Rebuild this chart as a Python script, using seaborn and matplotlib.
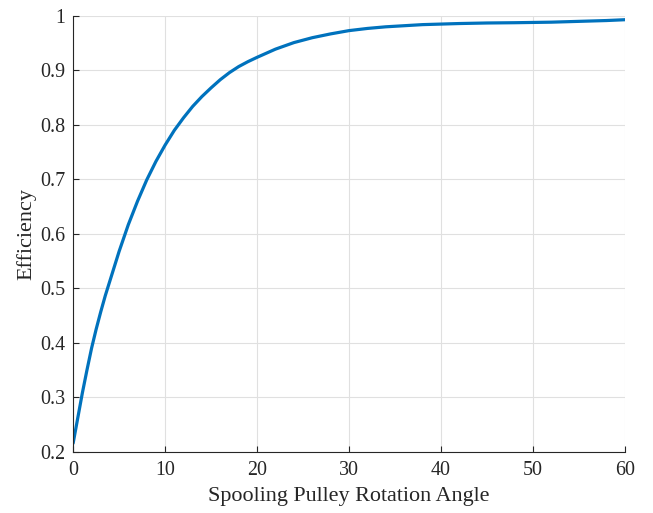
import matplotlib
matplotlib.use("Agg")
import matplotlib.pyplot as plt
import seaborn as sns
import pandas as pd

angle = [0, 0.5, 1, 1.5, 2, 2.5, 3, 3.5, 4, 5, 6, 7, 8, 9, 10, 11, 12, 13, 14,
         15, 16, 17, 18, 19, 20, 22, 24, 26, 28, 30, 32, 34, 36, 38, 40, 42,
         45, 48, 50, 52, 55, 58, 60]
efficiency = [0.216, 0.262, 0.308, 0.350, 0.390, 0.425, 0.457, 0.487, 0.514,
              0.568, 0.617, 0.660, 0.699, 0.733, 0.763, 0.790, 0.813, 0.834,
              0.852, 0.868, 0.883, 0.896, 0.907, 0.916, 0.924, 0.939, 0.951,
              0.960, 0.967, 0.973, 0.977, 0.980, 0.982, 0.984, 0.985, 0.986,
              0.987, 0.9875, 0.988, 0.9885, 0.990, 0.9915, 0.993]
xticks = [0, 10, 20, 30, 40, 50, 60]
yticks = [0.2, 0.3, 0.4, 0.5, 0.6, 0.7, 0.8, 0.9, 1.0]
ytick_labels = ["0.2", "0.3", "0.4", "0.5", "0.6", "0.7", "0.8", "0.9", "1"]

sns.set_style("white")
plt.rcParams['font.family'] = ['Liberation Serif', 'DejaVu Serif']

df = pd.DataFrame({"angle": angle, "eff": efficiency})

fig = plt.figure(figsize=(6.53, 5.13), dpi=100)
ax = fig.add_axes([0.112, 0.119, 0.845, 0.850])
sns.lineplot(data=df, x="angle", y="eff", ax=ax, color="#0072BD", linewidth=2.3)

ax.set_xlim(0, 60)
ax.set_ylim(0.2, 1.0)
ax.set_xticks(xticks)
ax.set_xticklabels([str(t) for t in xticks])
ax.set_yticks(yticks)
ax.set_yticklabels(ytick_labels)
ax.grid(True, color="#e0e0e0", linewidth=0.8)
ax.set_axisbelow(True)
for s in ["top", "right"]:
    ax.spines[s].set_visible(False)
for s in ["left", "bottom"]:
    ax.spines[s].set_color("#262626")
    ax.spines[s].set_linewidth(0.8)
ax.tick_params(direction="in", length=4, width=0.8, colors="#262626",
               labelsize=14.4, pad=5.5, left=True, bottom=True)
ax.tick_params(axis="x", pad=6.5)
ax.set_xlabel("Spooling Pulley Rotation Angle", fontsize=15.9, color="#262626",
              labelpad=5)
ax.set_ylabel("Efficiency", fontsize=15.9, color="#262626", labelpad=3)

fig.savefig("out.png", dpi=100)
